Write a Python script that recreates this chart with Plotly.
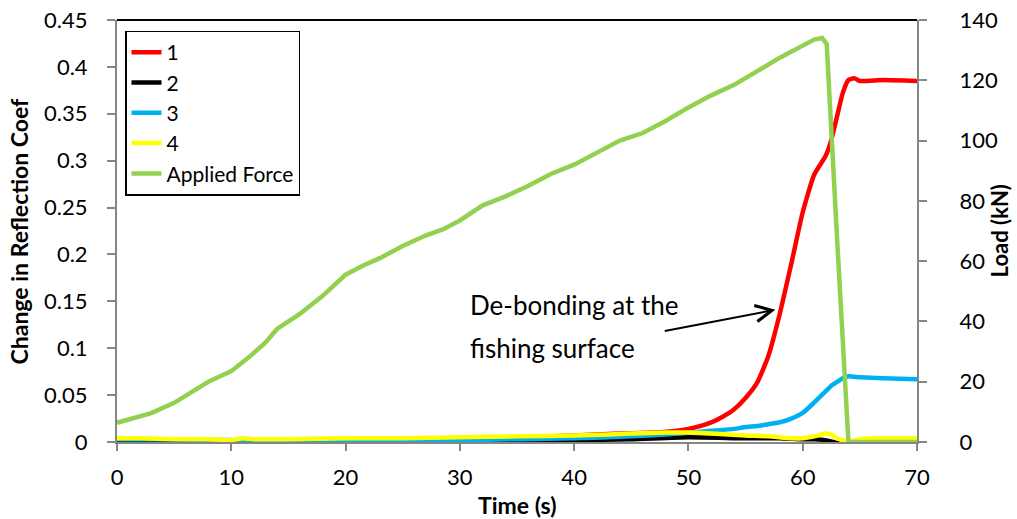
import plotly.graph_objects as go

# ---- data ----
t_force = [0, 1.5, 3, 5, 6.5, 8, 10, 11.5, 13, 14, 16, 18, 20, 21.5, 23, 25, 27, 28.5, 30, 32, 34, 36,
           38, 40, 42, 44, 46, 48, 50, 52, 54, 56, 58, 60, 61, 61.7, 62.1, 63, 64, 65, 70]
force_kn = [6.4, 8, 9.6, 13, 16.5, 20, 23.5, 28, 33, 37.5, 42.5, 48.5, 55.5, 58.5, 61, 65, 68.5, 70.5,
            73.5, 78.5, 81.5, 85, 89, 92, 96, 100, 102.5, 106.5, 111, 115, 118.5, 123, 127.5, 131.5,
            133.5, 134, 132, 68, 0, 0, 0]

t_s1 = [0, 5, 10, 15, 20, 25, 30, 35, 40, 44, 47, 49, 50, 51, 52, 53, 54, 55, 56, 57, 58, 59, 60, 61,
        62, 62.5, 63, 63.5, 64, 64.5, 65, 67, 70]
s1 = [0.001, 0.001, 0.001, 0.0, 0.001, 0.002, 0.003, 0.005, 0.007, 0.009, 0.010, 0.012, 0.014, 0.017,
      0.021, 0.027, 0.035, 0.047, 0.063, 0.092, 0.137, 0.19, 0.245, 0.285, 0.305, 0.322, 0.347, 0.372,
      0.386, 0.388, 0.385, 0.386, 0.385]

t_s2 = [0, 10, 20, 30, 40, 45, 50, 55, 58, 60, 61, 62, 63, 64, 65, 70]
s2 = [0.001, 0.001, 0.001, 0.001, 0.002, 0.003, 0.005, 0.004, 0.004, 0.003, 0.003, 0.002, -0.001,
      -0.001, 0.0, 0.0]

t_s3 = [0, 5, 10, 12, 15, 20, 25, 30, 35, 40, 45, 48, 50, 52, 54, 55, 56, 57, 58, 59, 60, 61, 62, 62.5,
        63, 63.5, 64, 65, 67, 70]
s3 = [0.003, 0.003, 0.002, 0.0, 0.0, 0.001, 0.0, 0.002, 0.003, 0.004, 0.006, 0.008, 0.010, 0.012, 0.014,
      0.016, 0.017, 0.019, 0.021, 0.025, 0.031, 0.042, 0.054, 0.060, 0.064, 0.068, 0.070, 0.069, 0.068,
      0.067]

t_s4 = [0, 2, 5, 8, 10, 11, 12, 15, 20, 25, 30, 35, 40, 43, 45, 48, 50, 52, 55, 57, 59, 60, 61, 62,
        62.5, 63, 64, 65, 66, 70]
s4 = [0.004, 0.004, 0.003, 0.003, 0.002, 0.004, 0.003, 0.003, 0.004, 0.004, 0.005, 0.006, 0.007, 0.008,
      0.009, 0.010, 0.010, 0.009, 0.007, 0.006, 0.004, 0.004, 0.006, 0.009, 0.008, 0.004, 0.0, 0.003,
      0.004, 0.004]

x_ticks = [0, 10, 20, 30, 40, 50, 60, 70]
y_ticks = [0, 0.05, 0.1, 0.15, 0.2, 0.25, 0.3, 0.35, 0.4, 0.45]
y_tick_labels = ["0", "0.05", "0.1", "0.15", "0.2", "0.25", "0.3", "0.35", "0.4", "0.45"]
y2_ticks = [0, 20, 40, 60, 80, 100, 120, 140]

FONT = "Lato, 'Open Sans', sans-serif"
AXC = "#868686"

fig = go.Figure()
for name, tx, ty, col in [("1", t_s1, s1, "#FF0000"), ("2", t_s2, s2, "#000000"),
                          ("3", t_s3, s3, "#00B0F0"), ("4", t_s4, s4, "#FFFF00")]:
    fig.add_trace(go.Scatter(x=tx, y=ty, name=name, mode="lines",
                             line=dict(color=col, width=4.5, shape="spline", smoothing=0.5)))
fig.add_trace(go.Scatter(x=t_force, y=force_kn, name="Applied Force", mode="lines", yaxis="y2",
                         line=dict(color="#92D050", width=4.5)))

fig.update_layout(
    width=1017, height=519,
    margin=dict(l=117, r=100, t=20, b=77),
    paper_bgcolor="white", plot_bgcolor="white",
    font=dict(family=FONT, size=22, color="black"),
    showlegend=True,
    legend=dict(x=0.01, y=0.975, xanchor="left", yanchor="top",
                bordercolor="black", borderwidth=1.5, bgcolor="white",
                font=dict(size=21), tracegroupgap=0),
    xaxis=dict(range=[0, 70], tickvals=x_ticks, showgrid=False, zeroline=False, automargin=False,
               showline=True, linecolor=AXC, linewidth=2, ticks="outside", ticklen=7,
               tickcolor=AXC, tickwidth=2, ticklabelstandoff=8, ticklabeloverflow="allow"),
    yaxis=dict(range=[0, 0.45], tickvals=y_ticks, ticktext=y_tick_labels, showgrid=False,
               automargin=False, ticklabeloverflow="allow",
               zeroline=False, showline=True, linecolor=AXC, linewidth=2, ticks="outside",
               ticklen=8, tickcolor=AXC, tickwidth=2, ticklabelstandoff=15),
    yaxis2=dict(range=[0, 140], tickvals=y2_ticks, overlaying="y", side="right", showgrid=False,
                automargin=False, ticklabeloverflow="allow",
                zeroline=False, showline=True, linecolor=AXC, linewidth=2, ticks="outside",
                ticklen=8, tickcolor=AXC, tickwidth=2, ticklabelstandoff=28),
)

# axis titles
fig.add_annotation(text="<b>Time (s)</b>", xref="paper", yref="paper", x=0.5, y=-0.149,
                   showarrow=False, xanchor="center", yanchor="middle", font=dict(size=23))
fig.add_annotation(text="<b>Change in Reflection Coef</b>", xref="paper", yref="paper",
                   x=-0.122, y=0.5, textangle=-90, showarrow=False,
                   xanchor="center", yanchor="middle", font=dict(size=23))
fig.add_annotation(text="<b>Load (kN)</b>", xref="paper", yref="paper",
                   x=1.103, y=0.5, textangle=-90, showarrow=False,
                   xanchor="center", yanchor="middle", font=dict(size=22))

# top border of plot area
fig.add_shape(type="line", xref="paper", yref="paper", x0=0, x1=1, y0=1, y1=1,
              line=dict(color="black", width=2))

# annotation text + arrow
fig.add_annotation(x=30.7, y=0.146, xref="x", yref="y", text="De-bonding at the",
                   showarrow=False, xanchor="left", yanchor="middle", font=dict(size=26))
fig.add_annotation(x=30.7, y=0.100, xref="x", yref="y", text="fishing surface",
                   showarrow=False, xanchor="left", yanchor="middle", font=dict(size=26))
fig.add_annotation(x=57.6, y=0.141, xref="x", yref="y", ax=47.8, ay=0.118, axref="x", ayref="y",
                   text="", showarrow=True, arrowhead=5, arrowsize=1.6, arrowwidth=2,
                   arrowcolor="black")

# remove the default 8px page margin so the figure fills the window exactly
fig.write_html("out.html", config={"displayModeBar": False},
               post_script="document.body.style.margin='0';")
